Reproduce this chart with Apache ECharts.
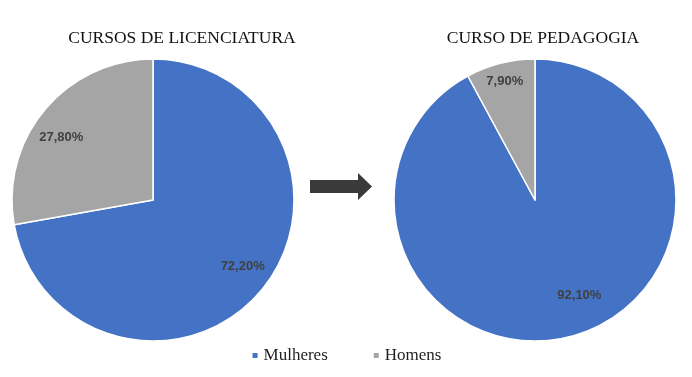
<!DOCTYPE html>
<html><head><meta charset="utf-8">
<script src="https://cdn.jsdelivr.net/npm/echarts@6/dist/echarts.min.js"></script>
<style>html,body{margin:0;padding:0;background:#fff}#c{width:692px;height:377px}</style>
</head><body><div id="c"></div>
<script>
var categories = ['Mulheres', 'Homens'];
var licenciatura = [72.2, 27.8];
var pedagogia = [92.1, 7.9];
var titles = ['CURSOS DE LICENCIATURA', 'CURSO DE PEDAGOGIA'];
var colors = ['#4472C4', '#A5A5A5'];

function fmt(p) { return p.value.toFixed(2).replace('.', ',') + '%'; }
function mk(vals, showIdx) {
  return vals.map(function (v, i) {
    var d = { name: categories[i], value: v };
    if (showIdx !== undefined && showIdx !== i) d.label = { show: false };
    return d;
  });
}
var R = 141;
var labelStyle = { show: true, position: 'inside', formatter: fmt, color: '#404040', fontSize: 13, fontWeight: 'bold', fontFamily: 'Liberation Sans, Arial, sans-serif' };
function pie(center, vals) {
  return { type: 'pie', center: center, radius: [0, R], startAngle: 90, clockwise: true,
    data: mk(vals), label: { show: false }, labelLine: { show: false },
    itemStyle: { borderColor: '#fff', borderWidth: 1.5 }, emphasis: { disabled: true }, silent: true };
}
function overlay(center, vals, frac, idx, shifts) {
  var r0 = R * (2 * frac - 1);
  return { type: 'pie', center: center, radius: [r0, R], startAngle: 90, clockwise: true,
    data: mk(vals, idx), label: labelStyle, labelLine: { show: false },
    labelLayout: function (p) { var s = shifts[p.dataIndex]; return { dx: s[0], dy: s[1] }; },
    itemStyle: { color: 'rgba(0,0,0,0)', borderWidth: 0 }, emphasis: { disabled: true }, silent: true, legendHoverLink: false };
}
var serif = 'Liberation Serif, Times New Roman, serif';
var chart = echarts.init(document.getElementById('c'));
chart.setOption({
  animation: false,
  color: colors,
  legend: {
    data: categories, top: 342, left: 'center', itemWidth: 7, itemHeight: 7, itemGap: 44, icon: 'rect',
    textStyle: { fontFamily: serif, fontSize: 17, color: '#1f1f1f' }
  },
  graphic: [
    { type: 'text', silent: true, x: 182, y: 38, style: { text: titles[0], align: 'center', verticalAlign: 'middle', font: '17.5px ' + serif, fill: '#111' } },
    { type: 'text', silent: true, x: 543, y: 38, style: { text: titles[1], align: 'center', verticalAlign: 'middle', font: '17.5px ' + serif, fill: '#111' } },
    { type: 'polygon', silent: true,
      shape: { points: [[310, 180], [358, 180], [358, 173], [372, 186.5], [358, 200], [358, 193], [310, 193]] },
      style: { fill: '#3a3a3a' } }
  ],
  series: [
    pie([153, 200], licenciatura),
    pie([535, 200], pedagogia),
    overlay([153, 200], licenciatura, 0.79, undefined, [[2, -7], [-4, 11]]),
    overlay([535, 200], pedagogia, 0.74, 0, [[18, -9], [0, 0]]),
    overlay([535, 200], pedagogia, 0.88, 1, [[0, 0], [1, 5]])
  ]
});
</script></body></html>
